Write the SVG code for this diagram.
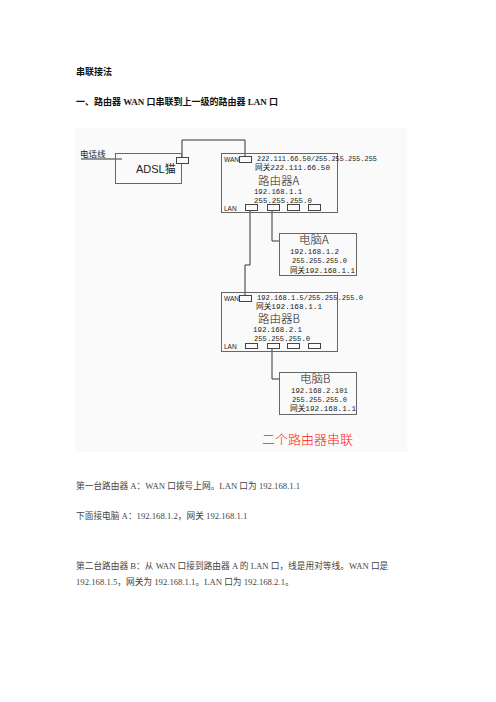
<svg xmlns="http://www.w3.org/2000/svg" width="496" height="702" viewBox="0 0 496 702">
<style>
.bg{fill:#ffffff}
.fig{fill:#fafafa}
.box{fill:none;stroke:#666;stroke-width:1}
.port{fill:#fafafa;stroke:#444;stroke-width:1}
.wire{fill:none;stroke:#333;stroke-width:1}
.m{font-family:"Liberation Mono","DejaVu Sans Mono","Noto Sans CJK SC",monospace;font-size:8px;fill:#222}
.s{font-family:"Liberation Sans","Noto Sans CJK SC",sans-serif;fill:#222}
.big{font-family:"Noto Sans CJK SC",sans-serif;font-size:11.5px;fill:#222;font-weight:300}
.h{font-family:"Liberation Serif","Noto Sans CJK SC",serif;font-size:9px;font-weight:bold;fill:#111}
.p{font-family:"Liberation Serif","Noto Sans CJK SC",serif;font-size:8.7px;fill:#444}
</style>
<rect class="bg" x="0" y="0" width="496" height="702"/>
<text class="h" x="76" y="75">串联接法</text>
<text class="h" x="76" y="105">一、路由器 WAN 口串联到上一级的路由器 LAN 口</text>
<rect class="fig" x="75" y="128" width="332" height="324"/>
<g id="connectors">
<path class="wire" d="M81 159 H122"/>
<path class="wire" d="M182 157 V140 H245 V157"/>
<path class="wire" d="M250 210 V265 H245 V295"/>
<path class="wire" d="M272 210 V241 H279"/>
<path class="wire" d="M272 348 V379 H279"/>
</g>
<g id="phoneline">
<text class="s" x="80" y="157" font-size="8.5">电话线</text>
</g>
<g id="adsl">
<rect class="box" x="115.5" y="153.5" width="66" height="30"/>
<rect class="port" x="176.5" y="157.5" width="12" height="6"/>
<text class="s" x="136" y="173" font-size="11">ADSL猫</text>
</g>
<g id="routerA">
<rect class="box" x="221.5" y="153.5" width="116" height="59"/>
<text class="s" x="224" y="162" font-size="6.5">WAN</text>
<rect class="port" x="239.5" y="156.5" width="12" height="6"/>
<text class="m" x="257" y="161" textLength="120" lengthAdjust="spacingAndGlyphs">222.111.66.50/255.255.255.255</text>
<text class="m" x="255" y="170" textLength="75" lengthAdjust="spacingAndGlyphs">网关222.111.66.50</text>
<text class="big" x="258" y="184.5">路由器A</text>
<text class="m" x="254" y="194" textLength="48" lengthAdjust="spacingAndGlyphs">192.168.1.1</text>
<text class="m" x="254" y="203" textLength="58" lengthAdjust="spacingAndGlyphs">255.255.255.0</text>
<text class="s" x="224" y="211" font-size="6.5">LAN</text>
<rect class="port" x="245.5" y="204.5" width="12" height="6"/>
<rect class="port" x="267.5" y="204.5" width="12" height="6"/>
<rect class="port" x="287.5" y="204.5" width="12" height="6"/>
<rect class="port" x="308.5" y="204.5" width="12" height="6"/>
</g>
<g id="pcA">
<rect class="box" x="279.5" y="233.5" width="77" height="42"/>
<text class="big" x="299" y="244" font-size="10.5">电脑A</text>
<text class="m" x="290" y="253.5" textLength="49" lengthAdjust="spacingAndGlyphs">192.168.1.2</text>
<text class="m" x="292" y="263" textLength="55" lengthAdjust="spacingAndGlyphs">255.255.255.0</text>
<text class="m" x="290" y="272.5" textLength="65" lengthAdjust="spacingAndGlyphs">网关192.168.1.1</text>
</g>
<g id="routerB">
<rect class="box" x="221.5" y="292.5" width="116" height="59"/>
<text class="s" x="224" y="301" font-size="6.5">WAN</text>
<rect class="port" x="239.5" y="295.5" width="12" height="6"/>
<text class="m" x="257" y="300" textLength="106" lengthAdjust="spacingAndGlyphs">192.168.1.5/255.255.255.0</text>
<text class="m" x="256" y="309" textLength="66" lengthAdjust="spacingAndGlyphs">网关192.168.1.1</text>
<text class="big" x="258" y="323">路由器B</text>
<text class="m" x="253" y="332" textLength="49" lengthAdjust="spacingAndGlyphs">192.168.2.1</text>
<text class="m" x="254" y="341" textLength="56" lengthAdjust="spacingAndGlyphs">255.255.255.0</text>
<text class="s" x="224" y="349" font-size="6.5">LAN</text>
<rect class="port" x="245.5" y="343.5" width="12" height="5"/>
<rect class="port" x="267.5" y="343.5" width="12" height="5"/>
<rect class="port" x="287.5" y="343.5" width="12" height="5"/>
<rect class="port" x="308.5" y="343.5" width="12" height="5"/>
</g>
<g id="pcB">
<rect class="box" x="279.5" y="372.5" width="77" height="42"/>
<text class="big" x="300" y="383" font-size="10.5">电脑B</text>
<text class="m" x="291" y="392.5" textLength="57" lengthAdjust="spacingAndGlyphs">192.168.2.101</text>
<text class="m" x="292" y="402" textLength="55" lengthAdjust="spacingAndGlyphs">255.255.255.0</text>
<text class="m" x="290" y="411" textLength="66" lengthAdjust="spacingAndGlyphs">网关192.168.1.1</text>
</g>
<text x="262" y="444" font-family="Noto Sans CJK SC,sans-serif" font-size="13" fill="#ff2020" font-weight="300">二个路由器串联</text>
<text class="p" x="76" y="489">第一台路由器 A：WAN 口拨号上网。LAN 口为 192.168.1.1</text>
<text class="p" x="76" y="519">下面接电脑 A：192.168.1.2，网关 192.168.1.1</text>
<text class="p" x="76" y="569">第二台路由器 B：从 WAN 口接到路由器 A 的 LAN 口，线是用对等线。WAN 口是</text>
<text class="p" x="76" y="585">192.168.1.5，网关为 192.168.1.1。LAN 口为 192.168.2.1。</text>
</svg>
